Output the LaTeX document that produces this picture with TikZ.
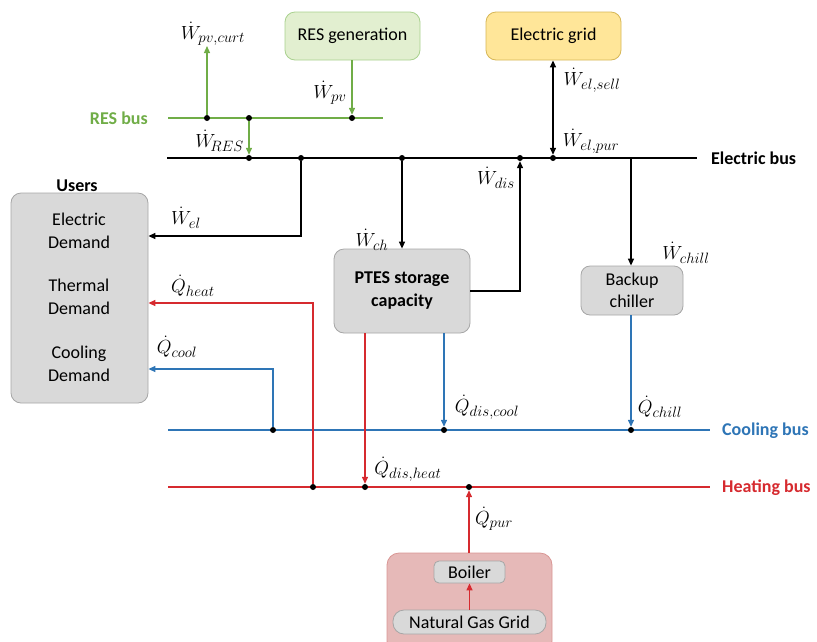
\documentclass[tikz,border=0pt]{standalone}
\usepackage{fix-cm}
\usepackage{fontspec}
\setmainfont{Carlito}
\DeclareMathSizes{18}{19}{15}{12}
\usetikzlibrary{arrows.meta}
\definecolor{gr}{HTML}{70AD47}
\definecolor{bl}{HTML}{2E75B6}
\definecolor{rd}{HTML}{D62A2F}
\definecolor{boxfill}{HTML}{D9D9D9}
\definecolor{boxline}{HTML}{A6A6A6}
\definecolor{resfill}{HTML}{E2EFD0}
\definecolor{resline}{HTML}{A9D18E}
\definecolor{gridfill}{HTML}{FFE699}
\definecolor{gridline}{HTML}{D6B656}
\definecolor{grpfill}{HTML}{E6B9B8}
\definecolor{grpline}{HTML}{D99694}
\begin{document}
\begin{tikzpicture}[x=1pt,y=-1pt,
  font=\fontsize{18}{20}\selectfont,
  box/.style={draw=boxline, fill=boxfill, rounded corners=10pt, align=center, inner sep=0pt, line width=0.8pt},
  bus/.style={line width=2.2pt},
  conn/.style={line width=1.3pt, -{Triangle[length=7pt,width=6pt]}},
  dot/.style={circle, fill=black, inner sep=0pt, minimum size=6pt},
  lbl/.style={inner sep=0pt},
  buslbl/.style={font=\fontsize{18}{20}\selectfont\bfseries, inner sep=0pt}]
\clip (0,0) rectangle (817,641);
\useasboundingbox (0,0) rectangle (817,641);

% boxes
\node[box, draw=resline, fill=resfill, minimum width=135pt, minimum height=48pt] (resgen) at (352.5,36) {RES generation};
\node[box, draw=gridline, fill=gridfill, minimum width=135pt, minimum height=48pt] (grid) at (553.5,36) {Electric grid};
\node[box, minimum width=137pt, minimum height=210pt] (users) at (79.5,298) {};
\node[buslbl] (userslbl) at (77,186) {Users};
\node[lbl, align=center] (ued) at (79,231) {Electric\\[3pt]Demand};
\node[lbl, align=center] (utd) at (79,297) {Thermal\\[3pt]Demand};
\node[lbl, align=center] (ucd) at (79,364) {Cooling\\[3pt]Demand};
\node[box, minimum width=136pt, minimum height=84pt, font=\fontsize{18}{23}\selectfont\bfseries] (ptes) at (402,291) {PTES storage\\capacity};
\node[box, minimum width=102pt, minimum height=49pt, rounded corners=9pt, font=\fontsize{18}{22}\selectfont] (chiller) at (632,290.5) {Backup\\chiller};
\node[box, draw=grpline, fill=grpfill, minimum width=165pt, minimum height=100pt, rounded corners=12pt] (grp) at (469.5,603) {};
\node[box, minimum width=71pt, minimum height=22pt, rounded corners=5pt] (boiler) at (469.5,572) {Boiler};
\node[box, minimum width=153pt, minimum height=24pt, rounded corners=11pt] (ngg) at (469.5,622) {Natural Gas Grid};

% bus end coordinates
\coordinate (resL) at (168,118); \coordinate (resR) at (383,118);
\coordinate (elL) at (167,158); \coordinate (elR) at (697,158);
\coordinate (coL) at (168,430); \coordinate (coR) at (710,430);
\coordinate (heL) at (168,487); \coordinate (heR) at (710,487);

\draw[bus, gr] (resL) -- (resR);
\draw[bus] (elL) -- (elR);
\draw[bus, bl] (coL) -- (coR);
\draw[bus, rd] (heL) -- (heR);

\node[buslbl, gr, anchor=east] (reslbl) at (148,118) {RES bus};
\node[buslbl, anchor=west] (ellbl) at (711,158) {Electric bus};
\node[buslbl, bl, anchor=west] (colbl) at (722,431) {Cooling bus};
\node[buslbl, rd, anchor=west] (helbl) at (722,488) {Heating bus};

% dots
\node[dot] (r1) at (207,118) {};
\node[dot] (r2) at (249,118) {};
\node[dot] (r3) at (352,118) {};
\node[dot] (e1) at (249,158) {};
\node[dot] (e2) at (301,158) {};
\node[dot] (e3) at (402,158) {};
\node[dot] (e4) at (520,158) {};
\node[dot] (e5) at (553,158) {};
\coordinate (e6) at (631,158);
\node[dot] (c1) at (273,430) {};
\node[dot] (c2) at (444,430) {};
\node[dot] (c3) at (631,430) {};
\node[dot] (h1) at (313,487) {};
\node[dot] (h2) at (365,487) {};
\node[dot] (h3) at (469,487) {};

% corner coordinates
\coordinate (curtTop) at (207,46);
\coordinate (welC) at (301,236);
\coordinate (wdisC) at (520,291);
\coordinate (heatC) at (313,303);
\coordinate (coolC) at (273,369);

% green connectors
\draw[conn, gr] (r1) -- (curtTop);
\draw[conn, gr] (resgen.south -| r3) -- (r3);
\draw[conn, gr] (r2) -- (e1);

% black connectors
\draw[line width=1.3pt, {Triangle[length=7pt,width=6pt]}-{Triangle[length=7pt,width=6pt]}] (grid.south -| e5) -- (e5);
\draw[conn] (e2) -- (welC) -- (users.east |- welC);
\draw[conn] (e3) -- (ptes.north -| e3);
\draw[conn] (ptes.east |- wdisC) -- (wdisC) -- (e4);
\draw[conn] (e6) -- (chiller.north -| e6);

% blue connectors
\draw[conn, bl] (chiller.south -| c3) -- (c3);
\draw[conn, bl] (ptes.south -| c2) -- (c2);
\draw[conn, bl] (c1) -- (coolC) -- (users.east |- coolC);

% red connectors
\draw[conn, rd] (h1) -- (heatC) -- (users.east |- heatC);
\draw[conn, rd] (ptes.south -| h2) -- (h2);
\draw[conn, rd] (grp.north -| h3) -- (h3);
\draw[conn, rd] (ngg.north) -- (boiler.south);

% labels
\node[lbl] (lcurt) at (213,34) {$\dot{W}_{pv,curt}$};
\node[lbl] (lpv) at (330,93) {$\dot{W}_{pv}$};
\node[lbl, anchor=east] (lres) at (244,141) {$\dot{W}_{\!RES}$};
\node[lbl] (lsell) at (592,80) {$\dot{W}_{el,sell}$};
\node[lbl] (lpur) at (591,141) {$\dot{W}_{el,pur}$};
\node[lbl] (ldis) at (496,178) {$\dot{W}_{dis}$};
\node[lbl] (lel) at (186,218) {$\dot{W}_{el}$};
\node[lbl] (lch) at (372,240) {$\dot{W}_{ch}$};
\node[lbl] (lchill) at (686,253) {$\dot{W}_{chill}$};
\node[lbl] (lheat) at (193,286) {$\dot{Q}_{heat}$};
\node[lbl] (lcool) at (177,347) {$\dot{Q}_{cool}$};
\node[lbl] (ldcool) at (487,407) {$\dot{Q}_{dis,cool}$};
\node[lbl] (lqchill) at (660,407) {$\dot{Q}_{chill}$};
\node[lbl] (ldheat) at (408,469) {$\dot{Q}_{dis,heat}$};
\node[lbl] (lqpur) at (494,519) {$\dot{Q}_{pur}$};
\end{tikzpicture}
\end{document}
